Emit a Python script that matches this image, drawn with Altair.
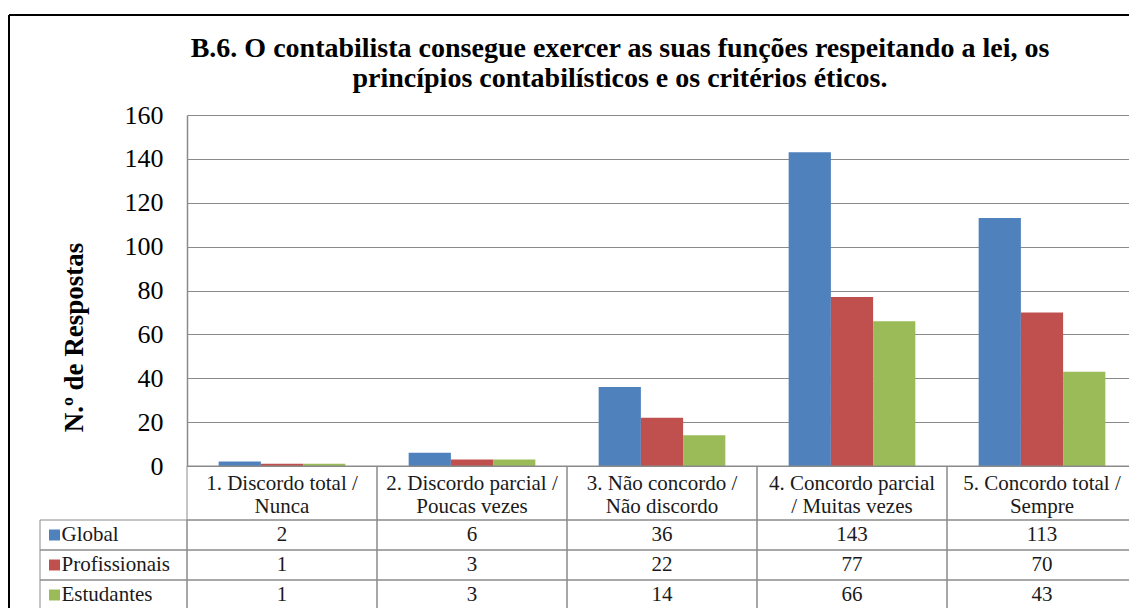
import altair as alt
import pandas as pd

# ---------------- data ----------------
categories = [
    "1. Discordo total / Nunca",
    "2. Discordo parcial / Poucas vezes",
    "3. Não concordo / Não discordo",
    "4. Concordo parcial / Muitas vezes",
    "5. Concordo total / Sempre",
]
header_labels = [
    "1. Discordo total /\nNunca",
    "2. Discordo parcial /\nPoucas vezes",
    "3. Não concordo /\nNão discordo",
    "4. Concordo parcial\n/ Muitas vezes",
    "5. Concordo total /\nSempre",
]
series = ["Global", "Profissionais", "Estudantes"]
global_vals = [2, 6, 36, 143, 113]
prof_vals = [1, 3, 22, 77, 70]
estud_vals = [1, 3, 14, 66, 43]
colors = ["#4F81BD", "#C0504D", "#9BBB59"]
y_ticks = [0, 20, 40, 60, 80, 100, 120, 140, 160]
title_lines = [
    "B.6. O contabilista consegue exercer as suas funções respeitando a lei, os",
    "princípios contabilísticos e os critérios éticos.",
]
y_title = "N.º de Respostas"

rows = []
for s, vals in zip(series, [global_vals, prof_vals, estud_vals]):
    for c, h, v in zip(categories, header_labels, vals):
        rows.append({"cat": c, "label": h, "series": s, "value": v})
df = pd.DataFrame(rows)
cat_df = pd.DataFrame({"cat": categories, "label": header_labels})
ser_df = pd.DataFrame({"series": series})
dummy = pd.DataFrame({"k": [0]})

# ---------------- layout / style ----------------
LEFT_W, PLOT_W = 147, 950
PLOT_H, HEAD_H, BODY_H = 351, 54, 90
SERIF = "Liberation Serif"
GRID = "#8a8a8a"
TXT = "#1a1a1a"

x_cat = alt.X("cat:N", sort=categories,
              scale=alt.Scale(domain=categories, paddingInner=0, paddingOuter=0),
              axis=None)
y_ser = alt.Y("series:N", sort=series,
              scale=alt.Scale(domain=series, paddingInner=0, paddingOuter=0),
              axis=None)
color = alt.Color("series:N", scale=alt.Scale(domain=series, range=colors), legend=None)

# cell A: empty corner holding the outer chart frame
frame_v = alt.Chart(dummy).mark_rule(color="black", strokeWidth=2).encode(
    x=alt.value(-31), y=alt.value(-100), y2=alt.value(PLOT_H + HEAD_H + BODY_H + 20))
frame_h = alt.Chart(dummy).mark_rule(color="black", strokeWidth=2).encode(
    x=alt.value(-31), x2=alt.value(LEFT_W + PLOT_W + 40), y=alt.value(-100))
cellA = alt.layer(frame_v, frame_h).properties(width=LEFT_W, height=PLOT_H)

# cell B: grouped bars
bars = alt.Chart(df, title=alt.Title(
    title_lines, font=SERIF, fontSize=28, fontWeight="bold", color="black",
    anchor="middle", frame="group", dx=-42, offset=9, lineHeight=30,
)).mark_bar().encode(
    x=x_cat,
    xOffset=alt.XOffset("series:N", sort=series,
                        scale=alt.Scale(domain=series, paddingInner=0, paddingOuter=0.75)),
    y=alt.Y("value:Q", scale=alt.Scale(domain=[0, 160], nice=False),
            axis=alt.Axis(values=y_ticks, title=y_title, grid=True, gridColor=GRID,
                          gridWidth=1, domainColor=GRID, domainWidth=1.5, ticks=False,
                          labelFont=SERIF, labelFontSize=26, labelColor="black",
                          labelPadding=24, titleFont=SERIF, titleFontSize=27,
                          titleFontWeight="bold", titleColor="black",
                          titleX=-113, titleY=222, titleAngle=-90,
                          titleAlign="center", titleBaseline="middle")),
    color=color,
).properties(width=PLOT_W, height=PLOT_H)

# cell C: empty (left of header row)
cellC = alt.Chart(dummy).mark_text(text="").encode(
    x=alt.value(0), y=alt.value(0)).properties(width=LEFT_W, height=HEAD_H)

# cell D: category header row
head_rect = alt.Chart(cat_df).mark_rect(fill="white", fillOpacity=0, stroke=GRID,
                                        strokeWidth=1).encode(x=x_cat)
head_text = alt.Chart(cat_df).mark_text(font=SERIF, fontSize=21, color=TXT,
                                        lineBreak="\n", lineHeight=23,
                                        baseline="middle").encode(
    x=x_cat, y=alt.value(17.5), text="label:N")
cellD = alt.layer(head_rect, head_text).properties(width=PLOT_W, height=HEAD_H)

# cell E: legend column of the data table
leg_rect = alt.Chart(ser_df).mark_rect(fill="white", fillOpacity=0, stroke=GRID,
                                       strokeWidth=1).encode(y=y_ser)
leg_sq = alt.Chart(ser_df).mark_square(size=121, filled=True, opacity=1).encode(
    x=alt.value(14.5), y=y_ser, color=color)
leg_txt = alt.Chart(ser_df).mark_text(align="left", font=SERIF, fontSize=21,
                                      color=TXT).encode(
    x=alt.value(21.5), y=y_ser, text="series:N")
cellE = alt.layer(leg_rect, leg_sq, leg_txt).properties(width=LEFT_W, height=BODY_H)

# cell F: values of the data table
val_rect = alt.Chart(df).mark_rect(fill="white", fillOpacity=0, stroke=GRID,
                                   strokeWidth=1).encode(x=x_cat, y=y_ser)
val_txt = alt.Chart(df).mark_text(font=SERIF, fontSize=21, color=TXT).encode(
    x=x_cat, y=y_ser, text="value:Q")
cellF = alt.layer(val_rect, val_txt).properties(width=PLOT_W, height=BODY_H)

chart = alt.concat(
    cellA, bars, cellC, cellD, cellE, cellF,
    columns=2, spacing=0, bounds="flush",
).properties(
    autosize=alt.AutoSizeParams(type="none"),
    padding={"left": 32, "top": 107, "right": 1089, "bottom": 493},
    background="white",
).configure_view(strokeWidth=0)

chart.save("out.html", embed_options={"renderer": "svg", "actions": False})
